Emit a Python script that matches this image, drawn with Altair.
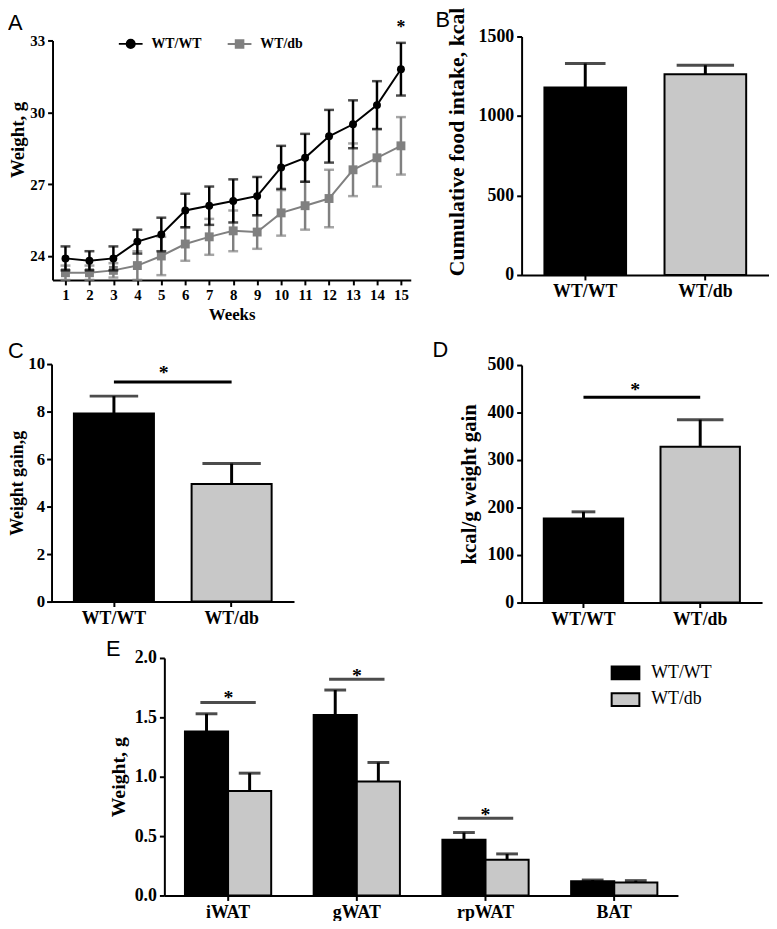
import altair as alt
import pandas as pd

# ---------------- data ----------------
weeks = list(range(1, 16))
wt_weight = [23.9, 23.8, 23.9, 24.6, 24.9, 25.9, 26.1, 26.3, 26.5, 27.7, 28.1, 29.0, 29.5, 30.3, 31.8]
wt_weight_sem = [0.5, 0.4, 0.5, 0.5, 0.7, 0.7, 0.8, 0.9, 0.8, 0.9, 1.0, 1.1, 1.0, 1.0, 1.1]
db_weight = [23.3, 23.3, 23.4, 23.6, 24.0, 24.5, 24.8, 25.05, 25.0, 25.8, 26.1, 26.4, 27.6, 28.1, 28.6]
db_weight_sem = [0.3, 0.3, 0.3, 0.6, 0.8, 0.7, 0.75, 0.85, 0.7, 0.95, 1.0, 1.2, 1.1, 1.2, 1.2]
weight_star_week = [15]
weight_star_y = [33.3]

groups = ["WT/WT", "WT/db"]
food_intake = [1180, 1262]
food_intake_sem = [150, 57]
weight_gain = [7.92, 4.95]
weight_gain_sem = [0.73, 0.86]
weight_gain_sig = [9.24]
weight_gain_star = [9.38]
kcal_per_gain = [177, 328]
kcal_per_gain_sem = [14, 57]
kcal_sig = [432]
kcal_star = [434]

tissues = ["iWAT", "gWAT", "rpWAT", "BAT"]
tissue_wt = [1.38, 1.52, 0.47, 0.12]
tissue_wt_sem = [0.15, 0.21, 0.06, 0.01]
tissue_db = [0.88, 0.96, 0.30, 0.11]
tissue_db_sem = [0.15, 0.16, 0.05, 0.015]
sig_tissues = ["iWAT", "gWAT", "rpWAT"]
sig_tissue_bar = [1.625, 1.82, 0.65]
sig_tissue_star = [1.61, 1.80, 0.628]

panel_letters = ["A", "B", "C", "D", "E"]

# ---------------- layout / style ----------------
SERIF = "Liberation Serif"
SANS = "Liberation Sans"
GREY_BAR = "#c8c8c8"
GREY_LINE = "#808080"
W, H = 769, 913  # drawing area (page minus 8px margin)


def r(a, b):
    """page pixel range -> plot coordinate range"""
    return [a - 8, b - 8]


def axis(orient, pos, title=None, values=None, fmt=None, label_size=18, title_size=20,
         title_padding=6, title_y=None, label_padding=3):
    if orient == "left":
        offset = -(pos - 8)
    else:
        offset = (pos - 8) - H
    d = dict(orient=orient, offset=offset, grid=False, domainColor="black", domainWidth=2,
             tickColor="black", tickWidth=2, tickSize=5, labelFont=SERIF, labelFontWeight="bold",
             labelFontSize=label_size, labelColor="black", titleFont=SERIF, titleFontWeight="bold",
             titleFontSize=title_size, titleColor="black", labelPadding=label_padding,
             titlePadding=title_padding, labelOverlap=False, labelFlush=False, labelAngle=0,
             title=title)
    if values is not None:
        d["values"] = values
    if fmt is not None:
        d["format"] = fmt
    if title_y is not None:
        d["titleY"] = title_y
    return alt.Axis(**d)


layers = []

# ---------------- Panel A: body weight over weeks ----------------
dfA = pd.DataFrame({
    "week": weeks * 2,
    "group": ["WT/WT"] * 15 + ["WT/db"] * 15,
    "mean": wt_weight + db_weight,
    "sem": wt_weight_sem + db_weight_sem,
})
dfA["lo"] = dfA["mean"] - dfA["sem"]
dfA["hi"] = dfA["mean"] + dfA["sem"]
xA = alt.Scale(domain=[0.46, 15.41], range=r(53, 415), nice=False, zero=False)
yA = alt.Scale(domain=[23, 33], range=r(278, 36), nice=False, zero=False)


def series(name, color, shape, size, with_axes):
    src = alt.Chart(dfA).transform_filter(alt.datum.group == name)
    if with_axes:
        xax = axis("bottom", 278, title="Weeks", values=weeks, fmt="d", label_size=15,
                   title_size=17, title_padding=4)
        yax = axis("left", 53, title="Weight, g", values=[24, 27, 30, 33], fmt="d", label_size=15,
                   title_size=19, title_padding=2, title_y=128)
    else:
        xax = None
        yax = None
    out = []
    out.append(src.mark_rule(color=color, strokeWidth=2.5).encode(
        x=alt.X("week:Q", scale=xA, axis=xax),
        y=alt.Y("lo:Q", scale=yA, axis=yax),
        y2="hi:Q"))
    out.append(src.transform_fold(["lo", "hi"], as_=["k", "v"]).mark_tick(
        orient="horizontal", color=color, size=10, thickness=2.5).encode(
        x=alt.X("week:Q", scale=xA, axis=None),
        y=alt.Y("v:Q", scale=yA, axis=None)))
    out.append(src.mark_line(color=color, strokeWidth=2).encode(
        x=alt.X("week:Q", scale=xA, axis=None),
        y=alt.Y("mean:Q", scale=yA, axis=None)))
    out.append(src.mark_point(shape=shape, filled=True, opacity=1, size=size, color=color).encode(
        x=alt.X("week:Q", scale=xA, axis=None),
        y=alt.Y("mean:Q", scale=yA, axis=None)))
    return out


layers += series("WT/db", GREY_LINE, "square", 81, True)
layers += series("WT/WT", "black", "circle", 64, False)

# star
layers.append(alt.Chart(pd.DataFrame({"week": weight_star_week, "y": weight_star_y})).mark_text(
    text="*", font=SERIF, fontWeight="bold", fontSize=18, color="black", baseline="alphabetic").encode(
    x=alt.X("week:Q", scale=xA, axis=None), y=alt.Y("y:Q", scale=yA, axis=None)))

# legend of panel A (no marks drawn, legend only)
PATH_LINE_CIRCLE = "M-1,0H1M0.34,0A0.34,0.34,0,1,1,-0.34,0A0.34,0.34,0,1,1,0.34,0Z"
PATH_LINE_SQUARE = "M-1,0H1M-0.32,-0.32H0.32V0.32H-0.32Z"
legA_kw = dict(orient="none", legendX=119 - 8, legendY=38 - 8 - 12, direction="horizontal",
               title=None, symbolSize=576, symbolStrokeWidth=2, symbolOpacity=1,
               labelFont=SERIF, labelFontWeight="bold", labelFontSize=14, labelColor="black",
               labelOffset=8, columnPadding=22)
layers.append(alt.Chart(pd.DataFrame({"group": groups})).transform_filter("false").mark_point(
    filled=True, opacity=1).encode(
    color=alt.Color("group:N", scale=alt.Scale(domain=groups, range=["black", GREY_LINE]),
                    legend=alt.Legend(**legA_kw)),
    stroke=alt.Stroke("group:N", scale=alt.Scale(domain=groups, range=["black", GREY_LINE]),
                      legend=alt.Legend(**legA_kw)),
    shape=alt.Shape("group:N", scale=alt.Scale(domain=groups, range=[PATH_LINE_CIRCLE, PATH_LINE_SQUARE]),
                    legend=alt.Legend(**legA_kw)),
))


# ---------------- two-bar panels (B, C, D) ----------------
def bar_panel(values, sems, xr, yr, ydom, yvals, ytitle, cap_sizes, title_y=None,
              title_size=20, title_padding=6, label_size=18, label_padding=3):
    df = pd.DataFrame({"group": groups, "value": values,
                       "hi": [v + s for v, s in zip(values, sems)]})
    xs = alt.Scale(domain=groups, range=r(*xr), paddingInner=0.32, paddingOuter=0.19)
    ys = alt.Scale(domain=ydom, range=r(*yr), nice=False, zero=False)
    base = alt.Chart(df)
    out = [
        base.mark_bar(stroke="black", strokeWidth=2).encode(
            x=alt.X("group:N", scale=xs, sort=groups, axis=axis("bottom", yr[0], values=groups)),
            y=alt.Y("value:Q", scale=ys, axis=axis("left", xr[0], title=ytitle, values=yvals, fmt="d",
                                                      title_y=title_y, title_size=title_size,
                                                      title_padding=title_padding,
                                                      label_size=label_size,
                                                      label_padding=label_padding)),
            color=alt.Color("group:N", scale=alt.Scale(domain=groups, range=["black", GREY_BAR]),
                            legend=None)),
        base.mark_rule(color="black", strokeWidth=3).encode(
            x=alt.X("group:N", scale=xs, sort=groups, axis=None),
            y=alt.Y("value:Q", scale=ys, axis=None), y2="hi:Q"),
        base.mark_tick(orient="horizontal", color="black", thickness=3).encode(
            x=alt.X("group:N", scale=xs, sort=groups, axis=None),
            y=alt.Y("hi:Q", scale=ys, axis=None),
            size=alt.condition(alt.datum.group == "WT/WT", alt.value(cap_sizes[0]), alt.value(cap_sizes[1]))),
    ]
    return out, xs, ys


bB, _, _ = bar_panel(food_intake, food_intake_sem, (527, 777), (273, 32), [0, 1500],
                     [0, 500, 1000, 1500], "Cumulative food intake, kcal", (41, 58), title_y=130,
                     title_size=22, title_padding=10)
layers += bB

bC, xsC, ysC = bar_panel(weight_gain, weight_gain_sem, (52, 297), (603, 363), [0, 10],
                         [0, 2, 4, 6, 8, 10], "Weight gain,g", (49, 59), title_size=18,
                         title_padding=1, label_size=17, label_padding=2)
layers += bC
sigC = pd.DataFrame({"a": ["WT/WT"], "b": ["WT/db"], "y": weight_gain_sig, "s": weight_gain_star})
layers.append(alt.Chart(sigC).mark_rule(color="black", strokeWidth=3).encode(
    x=alt.X("a:N", scale=xsC, axis=None), x2="b:N", y=alt.Y("y:Q", scale=ysC, axis=None)))
layers.append(alt.Chart(sigC).mark_text(text="*", font=SERIF, fontWeight="bold", fontSize=20,
                                        color="black", baseline="alphabetic", dx=52).encode(
    x=alt.X("a:N", scale=xsC, axis=None), y=alt.Y("s:Q", scale=ysC, axis=None)))

bD, xsD, ysD = bar_panel(kcal_per_gain, kcal_per_gain_sem, (527, 770), (604, 364), [0, 500],
                         [0, 100, 200, 300, 400, 500], "kcal/g weight gain", (24, 47), title_size=21,
                         title_padding=8)
layers += bD
sigD = pd.DataFrame({"a": ["WT/WT"], "b": ["WT/db"], "y": kcal_sig, "s": kcal_star})
layers.append(alt.Chart(sigD).mark_rule(color="black", strokeWidth=3).encode(
    x=alt.X("a:N", scale=xsD, axis=None), x2="b:N", y=alt.Y("y:Q", scale=ysD, axis=None)))
layers.append(alt.Chart(sigD).mark_text(text="*", font=SERIF, fontWeight="bold", fontSize=20,
                                        color="black", baseline="alphabetic", dx=54).encode(
    x=alt.X("a:N", scale=xsD, axis=None), y=alt.Y("s:Q", scale=ysD, axis=None)))

# ---------------- Panel E: fat pad weights ----------------
dfE = pd.DataFrame({
    "tissue": tissues * 2,
    "group": ["WT/WT"] * 4 + ["WT/db"] * 4,
    "value": tissue_wt + tissue_db,
    "sem": tissue_wt_sem + tissue_db_sem,
})
dfE["hi"] = dfE["value"] + dfE["sem"]
xsE = alt.Scale(domain=tissues, range=r(166, 685), paddingInner=0.33, paddingOuter=0.16)
ysE = alt.Scale(domain=[0, 2], range=r(900, 660), nice=False, zero=False)
offE = alt.Scale(domain=groups, paddingInner=0, paddingOuter=0)
legE = alt.Legend(orient="none", legendX=617 - 8, legendY=660 - 8, title=None,
                  symbolType="M-1,-0.46H1V0.46H-1Z", symbolSize=784, symbolStrokeColor="black",
                  symbolStrokeWidth=2, labelFont=SERIF, labelFontSize=18, labelColor="black",
                  labelOffset=11, rowPadding=1)
baseE = alt.Chart(dfE)
layers.append(baseE.mark_bar(stroke="black", strokeWidth=2).encode(
    x=alt.X("tissue:N", scale=xsE, sort=tissues, axis=axis("bottom", 900, values=tissues)),
    xOffset=alt.XOffset("group:N", scale=offE, sort=groups),
    y=alt.Y("value:Q", scale=ysE, axis=axis("left", 166, title="Weight, g",
                                             values=[0, 0.5, 1.0, 1.5, 2.0], fmt=".1f")),
    color=alt.Color("group:N", scale=alt.Scale(domain=groups, range=["black", GREY_BAR]), legend=legE)))
layers.append(baseE.mark_rule(color="black", strokeWidth=3).encode(
    x=alt.X("tissue:N", scale=xsE, sort=tissues, axis=None),
    xOffset=alt.XOffset("group:N", scale=offE, sort=groups),
    y=alt.Y("value:Q", scale=ysE, axis=None), y2="hi:Q"))
layers.append(baseE.mark_tick(orient="horizontal", color="black", thickness=3, size=22).encode(
    x=alt.X("tissue:N", scale=xsE, sort=tissues, axis=None),
    xOffset=alt.XOffset("group:N", scale=offE, sort=groups),
    y=alt.Y("hi:Q", scale=ysE, axis=None)))
sigE = pd.DataFrame({"tissue": sig_tissues, "y": sig_tissue_bar, "s": sig_tissue_star})
layers.append(alt.Chart(sigE).mark_tick(orient="horizontal", color="black", thickness=3, size=56).encode(
    x=alt.X("tissue:N", scale=xsE, sort=tissues, axis=None),
    y=alt.Y("y:Q", scale=ysE, axis=None)))
layers.append(alt.Chart(sigE).mark_text(text="*", font=SERIF, fontWeight="bold", fontSize=20,
                                        color="black", baseline="alphabetic").encode(
    x=alt.X("tissue:N", scale=xsE, sort=tissues, axis=None),
    y=alt.Y("s:Q", scale=ysE, axis=None)))

# ---------------- panel letters ----------------
letter_pos = {"A": (8, 25), "B": (440, 22), "C": (8, 357), "D": (437, 356), "E": (107, 658)}
for L in panel_letters:
    px_, py_ = letter_pos[L]
    layers.append(alt.Chart(pd.DataFrame({"label": [L]})).mark_text(
        font=SANS, fontSize=22, color="black", align="left", baseline="alphabetic").encode(
        text="label:N", x=alt.value(px_ - 8), y=alt.value(py_ - 8)))

chart = alt.layer(*layers).properties(
    width=W, height=H, padding=0, autosize=alt.AutoSizeParams(type="none")
).resolve_scale(
    x="independent", y="independent", color="independent", shape="independent",
    stroke="independent", xOffset="independent", size="independent"
).resolve_axis(x="independent", y="independent").resolve_legend(
    color="independent", shape="independent", stroke="independent", size="independent"
).configure_view(stroke="transparent")

chart.save("out.html", embed_options={"renderer": "svg", "actions": False})
